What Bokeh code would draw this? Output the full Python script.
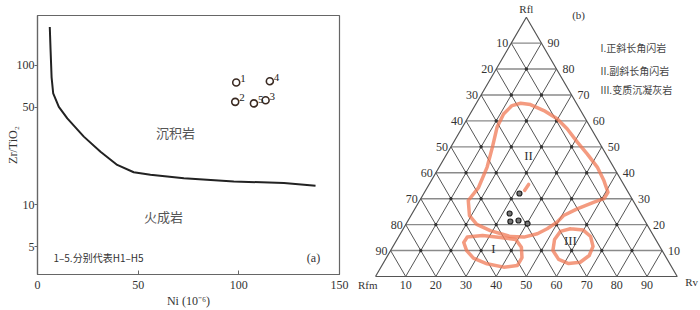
import math
from bokeh.plotting import figure
from bokeh.layouts import row
from bokeh.models import FixedTicker, PrintfTickFormatter
from bokeh.core.properties import value
from bokeh.embed import file_html
from bokeh.resources import INLINE

# ---------------- panel (a): Ni vs Zr/TiO2 ----------------
curve_ni = [6.1, 6.5, 7.0, 7.8, 10.6, 14.8, 23.0, 31.3, 39.6, 47.8, 56.1, 72.7, 97.5, 122.4, 138.1]
curve_zr = [188, 128, 82, 62.8, 50.4, 41.6, 30.8, 24.0, 19.3, 17.1, 16.4, 15.5, 14.7, 14.3, 13.7]
sample_ids = ["1", "2", "3", "4", "5"]
sample_ni = [98.7, 98.2, 113.3, 115.4, 107.5]
sample_zr = [75.2, 54.7, 56.2, 76.9, 53.3]
x_ticks = [0, 50, 100, 150]
y_ticks = [5, 10, 50, 100]

# ---------------- panel (b): ternary Rfl-Rfm-Rv ----------------
tern_ticks = [10, 20, 30, 40, 50, 60, 70, 80, 90]
field_II_rfl = [62.7, 65.9, 66.8, 66.3, 64.0, 60.8, 57.0, 51.8, 47.3, 42.2, 37.0, 32.5, 30.0, 28.7,
                26.1, 23.5, 20.9, 18.4, 16.5, 15.2, 15.4, 17.7, 20.1, 23.5, 29.3, 34.3, 42.2, 49.9, 57.6, 62.7]
field_II_rv = [11.1, 12.3, 14.7, 18.2, 23.8, 29.8, 35.0, 41.0, 46.5, 52.4, 57.2, 60.8, 60.7, 58.1,
               53.8, 50.6, 49.7, 47.7, 45.4, 41.6, 37.0, 29.2, 23.5, 19.4, 16.1, 17.0, 15.9, 13.8, 11.5, 11.1]
field_I_rfl = [15.2, 13.1, 10.0, 7.1, 4.9, 3.6, 4.2, 7.3, 11.3, 14.3, 15.0, 15.8, 15.2]
field_I_rv = [22.8, 22.7, 25.2, 28.9, 34.5, 40.7, 44.9, 44.9, 42.7, 39.3, 33.9, 27.6, 22.8]
field_III_rfl = [18.4, 17.9, 15.4, 11.6, 8.1, 5.5, 5.0, 6.6, 10.0, 14.3, 17.4, 18.4]
field_III_rv = [55.4, 59.9, 63.6, 66.3, 66.8, 65.1, 61.5, 57.4, 53.8, 52.2, 52.6, 55.4]
stroke_rfl = [35.5, 33.2]
stroke_rv = [33.0, 32.8]
sample_rfl = [32.0, 24.3, 21.2, 21.6, 20.4]
sample_rv = [31.7, 32.3, 34.1, 36.6, 40.2]
field_names = ["II", "I", "III"]
legend_items = ["I.正斜长角闪岩", "II.副斜长角闪岩", "III.变质沉凝灰岩"]

SERIF = value("Liberation Serif")
CJK = value("Noto Sans CJK SC")
H = math.sqrt(3) / 2


def tern(rfl, rv):
    return [v + f / 2 for f, v in zip(rfl, rv)], [f * H for f in rfl]


# ---------------- figure (a) ----------------
pa = figure(width=350, height=310, x_range=(0, 150), y_range=(3.16, 227.6),
            y_axis_type="log", output_backend="svg", toolbar_location=None,
            min_border_left=37, min_border_right=11, min_border_top=15, min_border_bottom=35)
pa.frame_align = False
pa.grid.visible = False
pa.outline_line_color = "#666666"
pa.outline_line_width = 1.2

pa.xaxis.ticker = FixedTicker(ticks=x_ticks)
pa.yaxis.ticker = FixedTicker(ticks=y_ticks)
pa.yaxis.formatter = PrintfTickFormatter(format="%d")
for ax in (pa.xaxis[0], pa.yaxis[0]):
    ax.axis_line_color = "#666666"
    ax.axis_line_width = 1.2
    ax.major_tick_line_color = "#666666"
    ax.minor_tick_line_color = None
    ax.major_label_text_font = "Liberation Serif"
    ax.major_label_text_font_size = "12px"
    ax.major_label_text_color = "#333333"
    ax.axis_label_text_font = "Liberation Serif"
    ax.axis_label_text_font_size = "12px"
    ax.axis_label_text_font_style = "normal"
    ax.axis_label_text_color = "#333333"
pa.xaxis.axis_label = "Ni (10⁻⁶)"
pa.yaxis.axis_label = "Zr/TiO₂"
pa.xaxis.major_tick_in = 4
pa.xaxis.major_tick_out = 0
pa.xaxis.major_label_standoff = 6
pa.xaxis.axis_label_standoff = 2
pa.yaxis.major_tick_in = 0
pa.yaxis.major_tick_out = 3
pa.yaxis.major_label_standoff = 0
pa.yaxis.axis_label_standoff = -6

pa.line(curve_ni, curve_zr, line_color="#222222", line_width=2)
pa.scatter(sample_ni, sample_zr, marker="circle", size=7, fill_color="white",
           line_color="#3a2a22", line_width=1.6)
pa.text(sample_ni, sample_zr, text=sample_ids, x_offset=4, y_offset=-4,
        text_font=SERIF, text_font_size="11px", text_color="#222222",
        text_align="left", text_baseline="middle")

pa.text([68.6], [32.7], text=["沉积岩"], text_font=CJK, text_font_size="13px",
        text_color="#555555", text_align="center", text_baseline="middle")
pa.text([62.6], [8.3], text=["火成岩"], text_font=CJK, text_font_size="13px",
        text_color="#555555", text_align="center", text_baseline="middle")
pa.text([7.9], [4.18], text=["1–5.分别代表H1–H5"], text_font=CJK, text_font_size="10px",
        text_color="#333333", text_align="left", text_baseline="middle")
pa.text([137.1], [4.18], text=["(a)"], text_font=SERIF, text_font_size="12px",
        text_color="#333333", text_align="center", text_baseline="middle")

# ---------------- figure (b) ----------------
pb = figure(width=350, height=310, x_range=(-8.29, 107.72), y_range=(-11.36, 92.18),
            output_backend="svg", toolbar_location=None,
            x_axis_location=None, y_axis_location=None,
            min_border_left=0, min_border_right=0, min_border_top=0, min_border_bottom=0)
pb.frame_align = False
pb.grid.visible = False
pb.outline_line_color = None

# grid lines
hx, hy, dx, dy = [], [], [], []
for k in tern_ticks:
    x, y = tern([k, k], [0, 100 - k])
    hx.append(x); hy.append(y)
    x, y = tern([0, 100 - k], [k, k])          # constant Rv
    dx.append(x); dy.append(y)
    x, y = tern([0, 100 - k], [100 - k, 0])    # constant Rfm
    dx.append(x); dy.append(y)
pb.multi_line(hx, hy, line_color="#8a8a8a", line_width=1.4)
pb.multi_line(dx, dy, line_color="#555555", line_width=1)
ox, oy = tern([0, 0, 100, 0], [0, 100, 0, 0])
pb.line(ox, oy, line_color="#555555", line_width=1.2)

ix, iy = [], []
for a in tern_ticks:
    for b in tern_ticks:
        if a + b < 100:
            ix.append(b + a / 2); iy.append(a * H)
pb.scatter(ix, iy, size=2.5, color="#333333")

# fields
for fr, fv in ((field_II_rfl, field_II_rv), (field_I_rfl, field_I_rv),
               (field_III_rfl, field_III_rv), (stroke_rfl, stroke_rv)):
    x, y = tern(fr, fv)
    pb.line(x, y, line_color="#f07a55", line_alpha=0.75, line_width=3.5,
            line_join="round", line_cap="round")

sx, sy = tern(sample_rfl, sample_rv)
pb.scatter(sx, sy, marker="circle", size=5, fill_color="#777777", line_color="#222222", line_width=1.2)

# tick labels
lx, ly = tern([100 - k for k in tern_ticks], [0] * 9)
pb.text(lx, ly, text=[str(k) for k in tern_ticks], x_offset=-3, text_font=SERIF,
        text_font_size="12px", text_color="#333333", text_align="right", text_baseline="middle")
rx, ry = tern(tern_ticks, [100 - k for k in tern_ticks])
pb.text(rx, ry, text=[str(k) for k in tern_ticks], x_offset=6, text_font=SERIF,
        text_font_size="12px", text_color="#333333", text_align="left", text_baseline="middle")
bx, by = tern([0] * 9, tern_ticks)
pb.text(bx, by, text=[str(k) for k in tern_ticks], y_offset=5, text_font=SERIF,
        text_font_size="12px", text_color="#333333", text_align="center", text_baseline="top")

# vertex labels
vx, vy = tern([100], [0])
pb.text(vx, vy, text=["Rfl"], y_offset=-2, text_font=SERIF, text_font_size="11px",
        text_color="#333333", text_align="center", text_baseline="bottom")
vx, vy = tern([0], [0])
pb.text(vx, vy, text=["Rfm"], x_offset=2, y_offset=9, text_font=SERIF, text_font_size="11px",
        text_color="#333333", text_align="right", text_baseline="middle")
vx, vy = tern([0], [100])
pb.text(vx, vy, text=["Rv"], x_offset=8, y_offset=6, text_font=SERIF, text_font_size="11px",
        text_color="#333333", text_align="left", text_baseline="middle")

pb.text([67.3], [87.2], text=["(b)"], text_font=SERIF, text_font_size="11px",
        text_color="#333333", text_align="center", text_baseline="middle")
pb.text([50.7, 39.1, 64.6], [40.4, 9.4, 12.0], text=field_names, text_font=SERIF,
        text_font_size="13px", text_color="#333333", text_align="center", text_baseline="middle")
pb.text([74.6, 74.6, 74.6], [76.5, 68.8, 62.5], text=legend_items, text_font=CJK,
        text_font_size="10px", text_color="#444444", text_align="left", text_baseline="middle")

layout = row(pa, pb)
open("out.html", "w").write(file_html(layout, INLINE))
